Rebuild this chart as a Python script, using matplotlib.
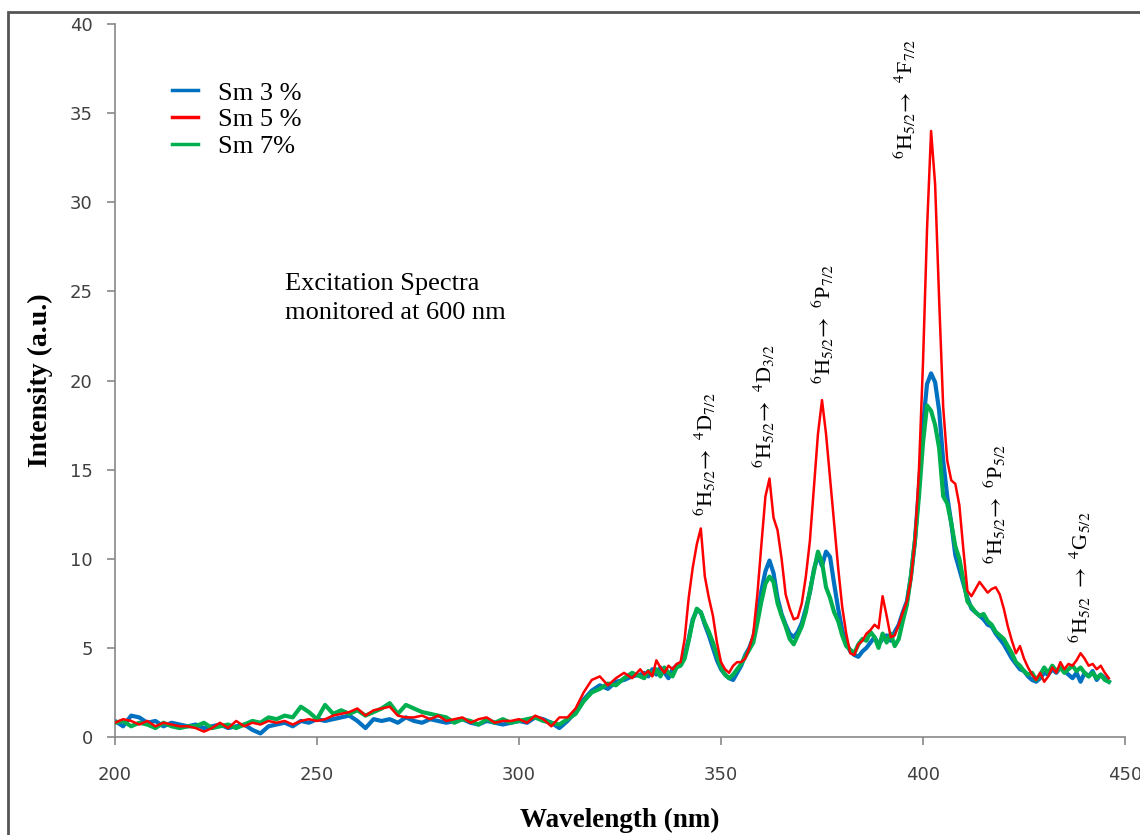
import numpy as np
import matplotlib
matplotlib.use("Agg")
import matplotlib.pyplot as plt
from matplotlib.patches import Rectangle

plt.rcParams['font.family'] = ['Liberation Serif', 'DejaVu Serif']
plt.rcParams['mathtext.fontset'] = 'stix'

# wavelength grid: 2 nm steps in the flat part, 1 nm steps over the peaks
wavelength = np.concatenate([np.arange(200, 331, 2), np.arange(331, 447, 1)])

# Sm 3 %
sm3 = [0.9, 0.6, 1.2, 1.1, 0.8, 0.9, 0.6, 0.8, 0.7, 0.6,
       0.7, 0.5, 0.6, 0.7, 0.5, 0.6, 0.7, 0.4, 0.2, 0.6,
       0.7, 0.8, 0.6, 0.9, 0.8, 1.0, 0.9, 1.0, 1.1, 1.2,
       0.9, 0.5, 1.0, 0.9, 1.0, 0.8, 1.1, 0.9, 0.8, 1.0,
       0.9, 0.8, 0.9, 1.0, 0.8, 0.7, 0.9, 0.8, 0.7, 0.8,
       0.9, 0.8, 1.1, 1.0, 0.8, 0.5, 0.9, 1.4, 2.1, 2.6,
       2.9, 2.7, 3.1, 3.2, 3.4, 3.5,
       3.6, 3.4, 3.8, 3.5, 3.9, 3.6, 3.3, 3.8, 4.0, 4.1,
       4.6, 5.5, 6.6, 7.1, 7.0, 6.3, 5.7, 5.0, 4.3, 3.8,
       3.5, 3.3, 3.2, 3.6, 4.0, 4.6, 5.0, 5.6, 6.8, 8.2,
       9.3, 9.9, 9.2, 7.8, 6.9, 6.3, 5.8, 5.6, 5.9, 6.4,
       7.2, 8.1, 9.4, 10.2, 9.6, 10.4, 10.1, 8.6, 7.2, 6.0,
       5.3, 4.8, 4.6, 4.5, 4.8, 5.0, 5.3, 5.6, 5.2, 5.5,
       5.7, 5.4, 5.9, 6.3, 7.0, 7.6, 9.0, 11.0, 14.0, 17.5,
       19.8, 20.4, 19.9, 18.3, 15.5, 13.5, 12.0, 10.2, 9.4, 8.6,
       7.8, 7.2, 7.0, 6.8, 6.6, 6.3, 6.2, 5.8, 5.5, 5.2,
       4.8, 4.4, 4.1, 3.8, 3.7, 3.4, 3.2, 3.1, 3.3, 3.6,
       3.5, 3.8, 3.6, 3.9, 3.7, 3.5, 3.3, 3.6, 3.1, 3.6,
       3.4, 3.7, 3.2, 3.5, 3.3, 3.1]

# Sm 5 %
sm5 = [0.8, 1.0, 0.9, 0.7, 0.9, 0.6, 0.8, 0.7, 0.6, 0.6,
       0.5, 0.3, 0.5, 0.8, 0.5, 0.9, 0.6, 0.8, 0.7, 0.9,
       0.8, 0.9, 0.7, 0.9, 1.0, 0.9, 1.0, 1.2, 1.3, 1.4,
       1.6, 1.2, 1.5, 1.6, 1.7, 1.2, 1.1, 1.1, 1.2, 1.0,
       1.2, 0.9, 1.0, 1.1, 0.8, 1.0, 1.1, 0.8, 0.9, 0.9,
       1.0, 0.8, 1.2, 1.0, 0.6, 1.1, 1.1, 1.6, 2.5, 3.2,
       3.4, 2.9, 3.3, 3.6, 3.3, 3.8,
       3.5, 3.7, 3.4, 4.3, 3.9, 3.6, 4.0, 3.8, 4.1, 4.2,
       5.5, 7.8, 9.5, 10.8, 11.7, 9.0, 7.8, 6.8, 5.3, 4.2,
       3.8, 3.6, 4.0, 4.2, 4.2, 4.4, 5.0, 5.8, 8.0, 10.8,
       13.5, 14.5, 12.3, 11.6, 10.0, 8.0, 7.2, 6.6, 6.7, 7.5,
       9.0, 11.0, 14.0, 17.0, 18.9, 17.0, 14.5, 12.0, 9.5, 7.3,
       5.8, 4.7, 4.6, 5.2, 5.4, 5.8, 6.0, 6.3, 6.1, 7.9,
       6.8, 5.6, 5.7, 6.3, 7.0, 7.6, 8.8, 11.0, 15.0, 21.0,
       28.5, 34.0, 31.0, 24.5, 18.5, 15.5, 14.4, 14.2, 13.0, 10.5,
       8.2, 7.9, 8.3, 8.7, 8.4, 8.1, 8.3, 8.4, 8.0, 7.2,
       6.2, 5.4, 4.7, 5.1, 4.4, 3.9, 3.5, 3.2, 3.6, 3.1,
       3.4, 3.9, 3.6, 4.2, 3.8, 4.1, 4.0, 4.3, 4.7, 4.4,
       4.0, 4.1, 3.8, 4.0, 3.6, 3.3]

# Sm 7 %
sm7 = [0.8, 0.9, 0.6, 0.8, 0.7, 0.5, 0.8, 0.6, 0.5, 0.6,
       0.6, 0.8, 0.5, 0.6, 0.7, 0.5, 0.7, 0.9, 0.8, 1.1,
       1.0, 1.2, 1.1, 1.7, 1.4, 1.0, 1.8, 1.3, 1.5, 1.3,
       1.5, 1.2, 1.4, 1.6, 1.9, 1.3, 1.8, 1.6, 1.4, 1.3,
       1.2, 1.1, 0.8, 1.0, 0.9, 0.7, 1.0, 0.8, 1.0, 0.8,
       0.9, 1.0, 1.1, 0.9, 0.8, 0.7, 1.0, 1.3, 2.0, 2.5,
       2.7, 3.0, 2.9, 3.3, 3.6, 3.4,
       3.3, 3.7, 3.5, 3.8, 3.4, 3.9, 3.6, 3.4, 3.9, 4.0,
       4.4, 5.4, 6.5, 7.2, 7.0, 6.4, 5.9, 5.3, 4.6, 3.9,
       3.5, 3.3, 3.5, 3.8, 4.1, 4.5, 4.9, 5.3, 6.4, 7.6,
       8.6, 9.0, 8.7, 7.5, 6.8, 6.2, 5.5, 5.2, 5.7, 6.2,
       7.0, 8.2, 9.3, 10.4, 9.8, 8.4, 7.8, 7.0, 6.5, 5.7,
       5.1, 4.9, 4.7, 5.2, 5.5, 5.4, 5.9, 5.6, 5.0, 5.8,
       5.3, 5.8, 5.1, 5.5, 6.5, 7.4, 9.0, 11.0, 13.5, 16.5,
       18.6, 18.3, 17.5, 16.2, 13.5, 13.1, 12.0, 10.7, 10.0, 8.8,
       7.6, 7.3, 7.0, 6.8, 6.9, 6.5, 6.3, 5.9, 5.7, 5.5,
       5.1, 4.7, 4.2, 4.0, 3.7, 3.5, 3.6, 3.2, 3.5, 3.9,
       3.6, 4.0, 3.7, 3.9, 3.6, 3.8, 4.0, 3.7, 3.9, 3.6,
       3.4, 3.6, 3.3, 3.5, 3.2, 3.1]

series_names = ['Sm 3 %', 'Sm 5 %', 'Sm 7%']

# transition labels: (text, wavelength, lower end of text)
transitions = [
    (r'$^6$H$_{5/2}$$\!\rightarrow$ $^4$D$_{7/2}$', 346, 12.4),
    (r'$^6$H$_{5/2}$$\!\rightarrow$ $^4$D$_{3/2}$', 360.5, 15.1),
    (r'$^6$H$_{5/2}$$\!\rightarrow$ $^6$P$_{7/2}$', 375.2, 19.8),
    (r'$^6$H$_{5/2}$$\!\rightarrow$ $^4$F$_{7/2}$', 395.5, 32.4),
    (r'$^6$H$_{5/2}$$\!\rightarrow$ $^6$P$_{5/2}$', 417.8, 9.7),
    (r'$^6$H$_{5/2}$ $\rightarrow$ $^4$G$_{5/2}$', 438.9, 5.3),
]

fig = plt.figure(figsize=(11.4, 8.35), dpi=100)
ax = fig.add_axes([115 / 1140, 1 - 737 / 835, 1010 / 1140, 713 / 835])

ax.plot(wavelength, sm3, color='#0070C0', lw=3.0, label=series_names[0], zorder=2)
ax.plot(wavelength, sm7, color='#00B050', lw=3.0, label=series_names[2], zorder=3)
ax.plot(wavelength, sm5, color='#FF0000', lw=1.8, label=series_names[1], zorder=4)

ax.set_xlim(200, 450)
ax.set_ylim(0, 40)
ax.set_xticks(np.arange(200, 451, 50))
ax.set_yticks(np.arange(0, 41, 5))

for side in ['top', 'right']:
    ax.spines[side].set_visible(False)
for side in ['left', 'bottom']:
    ax.spines[side].set_color('#888888')
    ax.spines[side].set_linewidth(1.2)
ax.tick_params(direction='out', length=6, width=1.2, color='#888888',
               labelcolor='#404040', labelsize=13)
ax.tick_params(axis='x', pad=15)
ax.tick_params(axis='y', pad=10)
for lab in ax.get_xticklabels() + ax.get_yticklabels():
    lab.set_family('DejaVu Sans')

ax.set_xlabel('Wavelength (nm)', fontsize=19.5, fontweight='bold', labelpad=17)
ax.set_ylabel('Intensity (a.u.)', fontsize=20, fontweight='bold', labelpad=12)

handles, labels = ax.get_legend_handles_labels()
order = [0, 2, 1]
leg = ax.legend([handles[i] for i in order], [labels[i] for i in order],
                loc='upper left', bbox_to_anchor=(0.056, 0.92), frameon=False,
                borderpad=0, borderaxespad=0,
                fontsize=19, handlelength=1.0, handletextpad=0.75, labelspacing=0.12)
for h in leg.get_lines():
    h.set_linewidth(2.5)

ax.text(242, 24.6, 'Excitation Spectra\nmonitored at 600 nm', fontsize=19,
        va='center', ha='left', linespacing=1.38)

for txt, wl, y0 in transitions:
    ax.text(wl, y0, txt, rotation=90, fontsize=16, ha='center', va='bottom')

# outer frame around the figure
fig.patches.append(Rectangle((8 / 1140, -0.05), 1.2, 1.05 - 12 / 835,
                             transform=fig.transFigure, fill=False,
                             edgecolor='#555555', lw=2, zorder=0))

fig.savefig('out.png', dpi=100)
